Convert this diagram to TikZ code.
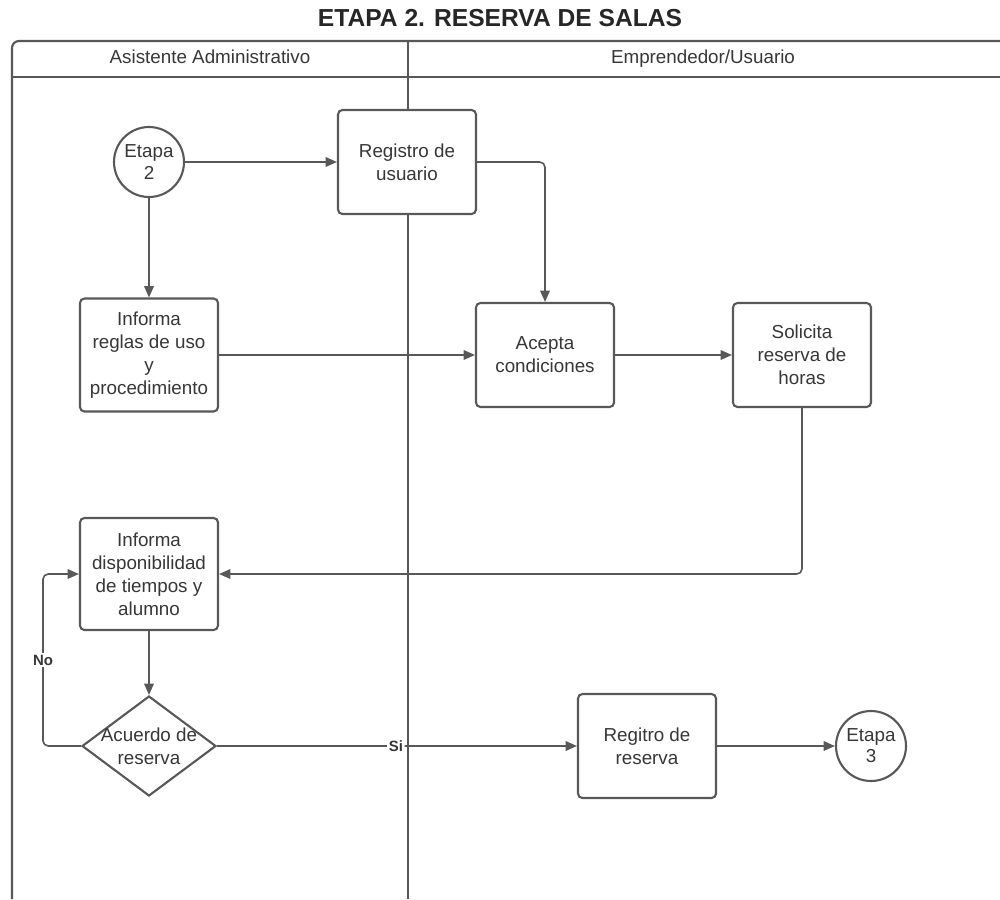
\documentclass[tikz,border=0pt]{standalone}
\usepackage{fontspec}
\setmainfont{Liberation Sans}
\usetikzlibrary{arrows.meta,shapes.geometric}
\definecolor{linea}{RGB}{88,88,88}
\definecolor{texto}{RGB}{55,55,55}
\tikzset{%
	proceso/.style  = {draw=linea, line width=1.2pt, fill=white, rectangle, rounded corners=2.5pt, minimum width=2.76cm, minimum height=2.08cm, text centered, align=center, text=texto, font=\fontsize{10.7}{13.1}\selectfont},
	etapa/.style    = {draw=linea, line width=1.2pt, fill=white, circle, minimum size=1.4cm, inner sep=0pt, align=center, text=texto, font=\fontsize{10.7}{12}\selectfont},
	decision/.style = {draw=linea, line width=1.2pt, fill=white, diamond, minimum width=2.68cm, minimum height=2cm, inner sep=0pt},
	flecha/.style   = {draw=linea, line width=0.9pt, -{Triangle[length=6.5pt,width=5.5pt]}, rounded corners=3pt},
	carril/.style   = {draw=linea, line width=1.2pt},
	rotulo/.style   = {font=\fontsize{8.5}{10}\selectfont\bfseries, text=texto, fill=white, inner sep=1pt},
	cabecera/.style = {text=texto, anchor=base, font=\fontsize{10.7}{13}\selectfont},
}

\begin{document}
\begin{tikzpicture}[x=0.02cm,y=-0.02cm]
	\useasboundingbox (0,0) rectangle (1000,899);
	\node[font=\fontsize{14}{16}\selectfont\bfseries, text=black!85] (titulo) at (500,18) {ETAPA 2. RESERVA DE SALAS};
	
	% carriles
	\draw[carril, rounded corners=4pt] (12,899) -- (12,41) -- (1000,41);
	\draw[carril] (12,77) -- (1000,77);
	\draw[carril] (408,41) -- (408,899);
	\node[cabecera] (asistente) at (210,63) {Asistente Administrativo};
	\node[cabecera] (usuario) at (703,63) {Emprendedor/Usuario};
	
	% nodos
	\node[etapa] (e2) at (149,162) {Etapa\\2};
	\node[proceso] (registro) at (407,162) {Registro de\\usuario};
	\node[proceso, minimum height=2.26cm] (reglas) at (149,355) {Informa\\reglas de uso\\y\\procedimiento};
	\node[proceso] (acepta) at (545,355) {Acepta\\condiciones};
	\node[proceso] (solicita) at (802,355) {Solicita\\reserva de\\horas};
	\node[proceso, minimum height=2.24cm] (dispon) at (149,574) {Informa\\disponibilidad\\de tiempos y\\alumno};
	\node[decision, label={[align=center, text=texto, font=\fontsize{10.7}{13.1}\selectfont]center:{Acuerdo de\\reserva}}] (acuerdo) at (149,746) {};
	\node[proceso] (regreserva) at (647,746) {Regitro de\\reserva};
	\node[etapa] (e3) at (871,746) {Etapa\\3};
	
	% conectores
	\draw[flecha] (e2) -- (registro);
	\draw[flecha] (e2) -- (reglas);
	\draw[flecha] (registro.east) -| (acepta.north);
	\draw[flecha] (reglas) -- (acepta);
	\draw[flecha] (acepta) -- (solicita);
	\draw[flecha] (solicita.south) |- (dispon.east);
	\draw[flecha] (dispon) -- (acuerdo);
	\draw[flecha] (acuerdo.west) -- ++(-38,0) |- node[rotulo, pos=0.25] {No} (dispon.west);
	\draw[flecha] (acuerdo.east) -- node[rotulo, pos=0.497] {Si} (regreserva.west);
	\draw[flecha] (regreserva) -- (e3);
\end{tikzpicture}
\end{document}
